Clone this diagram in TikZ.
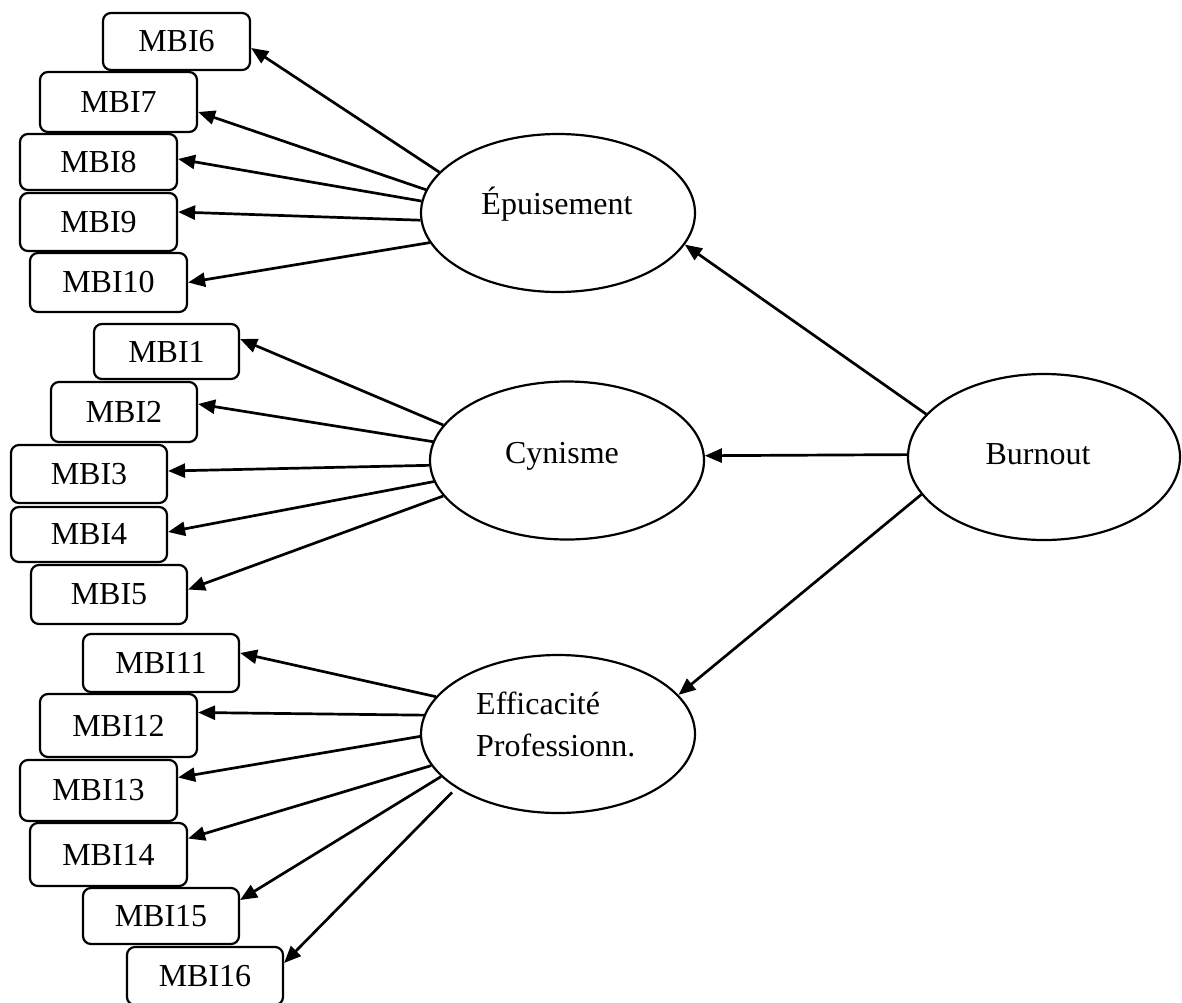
\documentclass[tikz,border=0pt]{standalone}
\usepackage{fontspec}
\setmainfont{Liberation Serif}
\usetikzlibrary{shapes.geometric,arrows.meta}
\tikzset{
  txt/.style={font=\fontsize{32}{42}\selectfont},
  mbox/.style={draw, line width=2.2pt, rounded corners=8pt, inner sep=0pt, txt},
  latent/.style={draw, ellipse, line width=2.2pt, inner sep=0pt, minimum width=274pt, minimum height=158pt},
  arr/.style={line width=2.7pt, -{Triangle[length=17pt,width=14pt]}}
}
\begin{document}
\begin{tikzpicture}[x=1pt,y=-1pt]
\useasboundingbox (0,0) rectangle (1182,1002);
% latent variables
\node[latent] (epu) at (558,213) {};
\node[latent] (cyn) at (567,460.5) {};
\node[latent] (eff) at (558,734) {};
\node[latent, minimum width=272pt, minimum height=166pt] (bur) at (1044,457) {};
\node[txt, anchor=base] (epuT) at (557,214) {Épuisement};
\node[txt, anchor=base] (cynT) at (562,463) {Cynisme};
\node[txt, anchor=base] (burT) at (1038,464) {Burnout};
\node[txt, anchor=base west, inner sep=0pt] (effT1) at (476,714) {Efficacité};
\node[txt, anchor=base west, inner sep=0pt] (effT2) at (476,756) {Professionn.};
% indicator boxes
\node[mbox, minimum width=147pt, minimum height=57pt] (m6) at (176.5,41.5) {MBI6};
\node[mbox, minimum width=157pt, minimum height=60pt] (m7) at (118.5,102) {MBI7};
\node[mbox, minimum width=157pt, minimum height=56pt] (m8) at (98.5,162) {MBI8};
\node[mbox, minimum width=157pt, minimum height=58pt] (m9) at (98.5,222) {MBI9};
\node[mbox, minimum width=157pt, minimum height=59pt] (m10) at (108.5,282.5) {MBI10};
\node[mbox, minimum width=145pt, minimum height=55pt] (m1) at (166.5,351.5) {MBI1};
\node[mbox, minimum width=146pt, minimum height=60pt] (m2) at (124,412) {MBI2};
\node[mbox, minimum width=156pt, minimum height=58pt] (m3) at (89,474) {MBI3};
\node[mbox, minimum width=156pt, minimum height=55pt] (m4) at (89,534.5) {MBI4};
\node[mbox, minimum width=156pt, minimum height=59pt] (m5) at (109,594.5) {MBI5};
\node[mbox, minimum width=156pt, minimum height=58pt] (m11) at (161,663) {MBI11};
\node[mbox, minimum width=157pt, minimum height=63pt] (m12) at (118.5,725.5) {MBI12};
\node[mbox, minimum width=157pt, minimum height=61pt] (m13) at (98.5,790.5) {MBI13};
\node[mbox, minimum width=157pt, minimum height=63pt] (m14) at (108.5,854.5) {MBI14};
\node[mbox, minimum width=156pt, minimum height=56pt] (m15) at (161,916) {MBI15};
\node[mbox, minimum width=156pt, minimum height=58pt] (m16) at (205,976) {MBI16};
% Burnout -> factors
\draw[arr] (bur.160.4) -- (epu.346.9);
\draw[arr] (bur.179.2) -- (cyn.2.1);
\draw[arr] (bur.197.3) -- (eff.18.6);
% Epuisement indicators
\draw[arr] (epu.161.1) -- ([yshift=-6.5pt]m6.east);
\draw[arr] (epu.170.2) -- ([yshift=-10pt]m7.east);
\draw[arr] (epu.175.4) -- ([yshift=3pt]m8.east);
\draw[arr] (epu.183.7) -- ([yshift=10pt]m9.east);
\draw[arr] (epu.193) -- (m10.east);
% Cynisme indicators
\draw[arr] (cyn.164.8) -- ([yshift=12.5pt]m1.east);
\draw[arr] (cyn.172.9) -- ([yshift=8pt]m2.east);
\draw[arr] (cyn.182.9) -- ([yshift=3pt]m3.east);
\draw[arr] (cyn.189.5) -- ([yshift=2.5pt]m4.east);
\draw[arr] (cyn.196.1) -- ([yshift=5pt]m5.east);
% Efficacite indicators
\draw[arr] (eff.163.9) -- ([yshift=10pt]m11.east);
\draw[arr] (eff.172.9) -- ([yshift=13pt]m12.east);
\draw[arr] (eff.181.2) -- ([yshift=13pt]m13.east);
\draw[arr] (eff.194) -- ([yshift=16pt]m14.east);
\draw[arr] (eff.200.3) -- ([yshift=16pt]m15.east);
\draw[arr, shorten <=6pt] (eff.208.9) -- ([yshift=13pt]m16.east);
\end{tikzpicture}
\end{document}
